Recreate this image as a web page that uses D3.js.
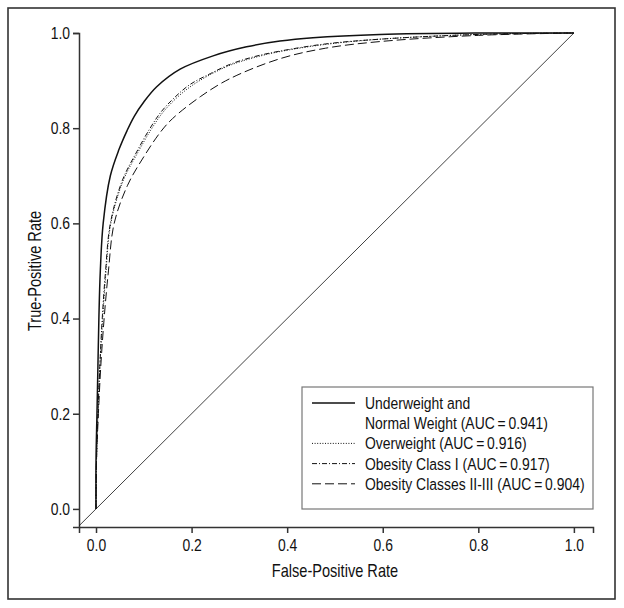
<!DOCTYPE html>
<html>
  <head>
    <meta http-equiv="Content-Type" content="text/html;charset=utf-8"/>
    <title>ROC curves by BMI class</title>
    <script src="https://d3js.org/d3.v7.min.js"></script>
    <style>
      body { margin: 0; background: #fff; }
      #content { position: relative; }
      text { font-family: "Liberation Sans", Arial, sans-serif; fill: #111; }
    </style>
  </head>
  <body>
    <div id="content"></div>
    <script type="text/javascript">

        // legend labels (first one wraps on two lines)
        const labels = [
            ['Underweight and', 'Normal Weight (AUC\u2009=\u20090.941)'],
            ['Overweight (AUC\u2009=\u20090.916)'],
            ['Obesity Class I (AUC\u2009=\u20090.917)'],
            ['Obesity Classes II-III (AUC\u2009=\u20090.904)']
        ]

        // [false-positive rate, true-positive rate]
        const underweight = [
            [0, 0], [0, 0.1], [0.002, 0.2], [0.004, 0.3], [0.006, 0.4], [0.009, 0.5],
            [0.015, 0.6], [0.03, 0.7], [0.048, 0.755], [0.065, 0.795], [0.08, 0.825],
            [0.1, 0.855], [0.127, 0.887], [0.176, 0.924], [0.245, 0.952], [0.315, 0.971],
            [0.385, 0.983], [0.454, 0.99], [0.594, 0.997], [0.8, 1], [1, 1]
        ]
        const overweight = [
            [0, 0], [0.001, 0.1], [0.004, 0.2], [0.008, 0.3], [0.014, 0.4], [0.021, 0.5],
            [0.031, 0.6], [0.057, 0.69], [0.087, 0.748], [0.114, 0.795], [0.139, 0.832],
            [0.168, 0.863], [0.2, 0.889], [0.24, 0.913], [0.28, 0.932], [0.33, 0.948],
            [0.385, 0.961], [0.48, 0.976], [0.594, 0.987], [0.8, 0.997], [1, 1]
        ]
        const obesity1 = [
            [0, 0], [0.001, 0.1], [0.004, 0.2], [0.008, 0.3], [0.013, 0.4], [0.02, 0.5],
            [0.03, 0.6], [0.055, 0.69], [0.085, 0.75], [0.112, 0.798], [0.136, 0.834],
            [0.165, 0.865], [0.197, 0.892], [0.24, 0.915], [0.28, 0.934], [0.33, 0.95],
            [0.385, 0.962], [0.48, 0.977], [0.594, 0.987], [0.8, 0.997], [1, 1]
        ]
        const obesity23 = [
            [0, 0], [0.001, 0.1], [0.005, 0.2], [0.01, 0.3], [0.017, 0.4], [0.026, 0.5],
            [0.038, 0.6], [0.066, 0.68], [0.1, 0.74], [0.135, 0.792], [0.16, 0.82],
            [0.218, 0.866], [0.28, 0.904], [0.385, 0.946], [0.48, 0.968], [0.594, 0.982],
            [0.8, 0.995], [1, 1]
        ]

        const xTicks = [0, 0.2, 0.4, 0.6, 0.8, 1.0]
        const yTicks = [0, 0.2, 0.4, 0.6, 0.8, 1.0]

        const series = [
            { points: underweight, dash: null, width: 1.5 },
            { points: overweight, dash: '1,1.6', width: 1 },
            { points: obesity1, dash: '5,2,1,2', width: 1 },
            { points: obesity23, dash: '9,4', width: 1 }
        ]

        const width = 624,
            height = 608,
            fontSize = 17,
            squeeze = 0.82   // condensed look, narrow font is not installed

        const xScale = d3.scaleLinear()
            .domain([-0.0356, 1.04])
            .range([79, 593])

        const yScale = d3.scaleLinear()
            .domain([-0.038, 1])
            .range([527, 33])

        const svg = d3.select('#content').append('svg')
            .attr('width', width)
            .attr('height', height)

        function label(parent, x, y, str, size, anchor, rot) {
            return parent.append('text')
                .attr('transform', 'translate(' + x + ',' + y + ')' + (rot ? ' rotate(' + rot + ')' : '') + ' scale(' + squeeze + ',1)')
                .attr('text-anchor', anchor || 'start')
                .style('font-size', size + 'px')
                .text(str)
        }

        // outer frame
        svg.append('rect')
            .attr('x', 8).attr('y', 8)
            .attr('width', 607).attr('height', 591)
            .attr('fill', 'none')
            .attr('stroke', '#333')
            .attr('stroke-width', 1.6)

        const fmt = d3.format('.1f')

        svg.append('g')
            .attr('transform', 'translate(0,' + yScale.range()[0] + ')')
            .call(d3.axisBottom(xScale).tickValues(xTicks).tickFormat(fmt).tickSizeOuter(0).tickSize(6).tickPadding(6))
            .selectAll('.tick text')
            .attr('transform', 'scale(' + squeeze + ',1)')

        svg.append('g')
            .attr('transform', 'translate(' + xScale.range()[0] + ',0)')
            .call(d3.axisLeft(yScale).tickValues(yTicks).tickFormat(fmt).tickSizeOuter(0).tickSize(6).tickPadding(3))
            .selectAll('.tick text')
            .attr('x', -9 / squeeze)
            .attr('transform', 'scale(' + squeeze + ',1)')

        svg.selectAll('.domain, .tick line')
            .attr('stroke', '#333')
            .attr('stroke-width', 1.5)
        svg.selectAll('.tick text')
            .style('font-size', fontSize + 'px')
            .style('font-family', '"Liberation Sans", Arial, sans-serif')
            .attr('fill', '#111')

        // axis titles
        label(svg, (xScale(0) + xScale(1)) / 2, 577, 'False-Positive Rate', fontSize + 0.8, 'middle')
        label(svg, 41, (yScale(0) + yScale(1)) / 2, 'True-Positive Rate', fontSize + 0.8, 'middle', -90)

        // chance diagonal, from the axes corner up to (1,1)
        const lo = Math.max(xScale.domain()[0], yScale.domain()[0])
        svg.append('line')
            .attr('x1', xScale(lo)).attr('y1', yScale(lo))
            .attr('x2', xScale(1)).attr('y2', yScale(1))
            .attr('stroke', '#111')
            .attr('stroke-width', 0.8)

        const line = d3.line()
            .x(d => xScale(d[0]))
            .y(d => yScale(d[1]))
            .curve(d3.curveCatmullRom.alpha(0.5))

        svg.selectAll('path.roc')
            .data(series.slice().reverse())
            .enter()
            .append('path')
            .attr('class', 'roc')
            .attr('d', d => line(d.points))
            .attr('fill', 'none')
            .attr('stroke', '#111')
            .attr('stroke-width', d => d.width)
            .attr('stroke-dasharray', d => d.dash)

        // legend
        const legend = svg.append('g')
        legend.append('rect')
            .attr('x', 302).attr('y', 387)
            .attr('width', 291).attr('height', 122)
            .attr('fill', '#fff')
            .attr('stroke', '#777')
            .attr('stroke-width', 1.2)

        let row = 0
        labels.forEach((lab, i) => {
            const cy = 403 + row * 20.2
            legend.append('line')
                .attr('x1', 312).attr('x2', 355)
                .attr('y1', cy).attr('y2', cy)
                .attr('stroke', '#111')
                .attr('stroke-width', series[i].width)
                .attr('stroke-dasharray', series[i].dash)
            lab.forEach(t => {
                label(legend, 365, 403 + row * 20.2 + 6, t, fontSize)
                row++
            })
        })

    </script>
  </body>
</html>
